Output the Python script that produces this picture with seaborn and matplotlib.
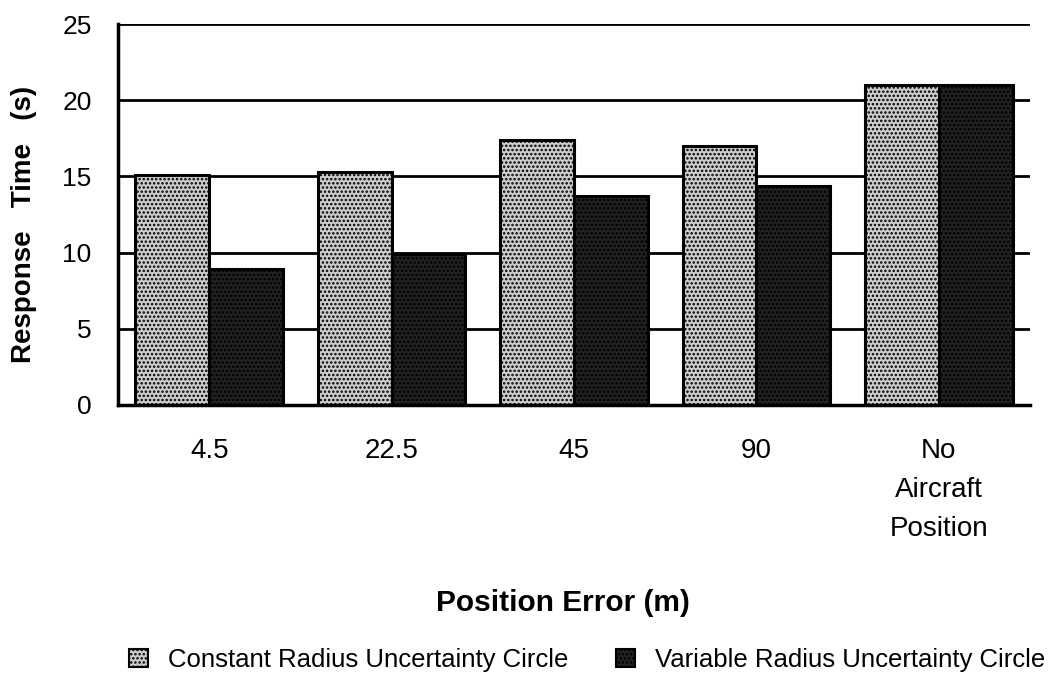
import matplotlib
matplotlib.use("Agg")
import matplotlib.pyplot as plt
import seaborn as sns
import pandas as pd
import numpy as np
from matplotlib.patches import Patch
from matplotlib.ticker import FixedLocator

categories = ["4.5", "22.5", "45", "90", "No\nAircraft\nPosition"]
series_names = ["Constant Radius Uncertainty Circle", "Variable Radius Uncertainty Circle"]
constant_vals = [15.1, 15.3, 17.4, 17.0, 21.0]
variable_vals = [8.9, 9.9, 13.7, 14.4, 21.0]
y_ticks = [0, 5, 10, 15, 20, 25]

df = pd.DataFrame({
    "cat": categories * 2,
    "series": [series_names[0]] * 5 + [series_names[1]] * 5,
    "val": constant_vals + variable_vals,
})

sns.set_style("white")
plt.rcParams["font.family"] = ["Liberation Sans", "DejaVu Sans"]
plt.rcParams["hatch.linewidth"] = 1.2
for k in ["text.color", "axes.labelcolor", "xtick.color", "ytick.color"]:
    plt.rcParams[k] = "black"

fig = plt.figure(figsize=(10.5, 6.77), dpi=100)
ax = fig.add_axes([118/1050, 1-405/677, (1030-118)/1050, (405-24)/677])

face = ["#cdcdcd", "#222222"]
hatch = ["....", "...."]
sns.barplot(data=df, x="cat", y="val", hue="series", order=categories,
            hue_order=series_names, palette=face, width=0.81, legend=False,
            ax=ax, zorder=3)
for i, cont in enumerate(ax.containers):
    for bar in cont:
        bar.set_edgecolor("black")
        bar.set_linewidth(2.2)
        bar.set_hatch(hatch[i])
        bar.set_zorder(3)

ax.set_ylim(0, 25)
ax.set_xlim(-0.5, 4.5)
ax.set_yticks(y_ticks)
for y in y_ticks[1:]:
    ax.axhline(y, color="black", lw=2, zorder=1)

for s in ["top", "right"]:
    ax.spines[s].set_visible(False)
for s in ["left", "bottom"]:
    ax.spines[s].set_linewidth(2.5)
    ax.spines[s].set_color("black")
    ax.spines[s].set_zorder(4)

ax.tick_params(axis="y", which="major", direction="out", length=8, width=2,
               labelsize=19, pad=11)
ax.tick_params(axis="x", which="major", length=0, labelsize=20, pad=24)
ax.xaxis.set_minor_locator(FixedLocator(np.arange(-0.5, 5.0, 1.0)))
ax.tick_params(axis="x", which="minor", direction="inout", length=16, width=2, color="black")
ax.set_xticks(range(len(categories)))
ax.set_xticklabels(categories, linespacing=1.65, va="top")

ax.set_xlabel("Position Error (m)", fontsize=21.5, fontweight="bold")
ax.xaxis.set_label_coords(0.488, -0.52)
ax.xaxis.label.set_va("center")
ax.set_ylabel("Response   Time   (s)", fontsize=20, fontweight="bold")
ax.yaxis.set_label_coords(-0.103, 0.475)
ax.yaxis.label.set_va("center")

handles = [Patch(facecolor=face[i], edgecolor="black", hatch=hatch[i], lw=1.5)
           for i in range(2)]
fig.legend(handles, series_names, loc="center right",
           bbox_to_anchor=(1068/1050, 1-660/677),
           ncol=2, frameon=False, fontsize=18.5, handlelength=0.74, handleheight=0.74,
           handletextpad=0.78, columnspacing=1.85)

fig.savefig("out.png", dpi=100, facecolor="white")
